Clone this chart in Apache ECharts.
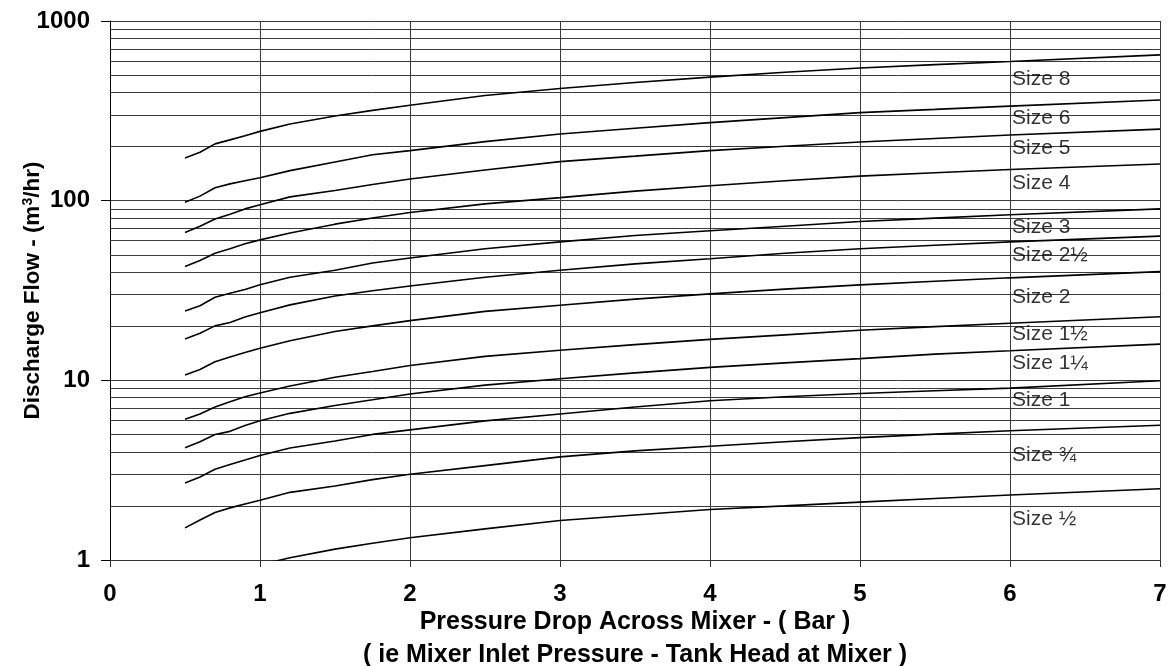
<!DOCTYPE html>
<html><head><meta charset="utf-8">
<script src="https://cdn.jsdelivr.net/npm/echarts@6/dist/echarts.min.js"></script>
<style>html,body{margin:0;padding:0;background:#fff}#c{width:1173px;height:666px}</style>
</head><body><div id="c"></div><script>
// Pressure drop (bar)
const pressure = [0.5, 0.6, 0.7, 0.8, 0.9, 1, 1.2, 1.5, 1.75, 2, 2.5, 3, 3.5, 4, 4.5, 5, 5.5, 6, 7];
// Discharge flow (m3/hr) per mixer size
const size8   = [173, 186, 207, 218, 230, 243, 267, 296, 318, 340, 385, 421, 455, 487, 518, 548, 572, 595, 648];
const size6   = [98, 106, 118, 124, 129, 134, 147, 164, 180, 190, 213, 235, 253, 272, 290, 309, 322, 336, 363];
const size5   = [66.5, 72, 79, 84, 90, 95, 105, 114, 123, 132, 148, 165, 177, 190, 201, 212, 222, 232, 250];
const size4   = [43, 46.5, 51, 54, 57.5, 60.5, 66, 74, 80, 86, 96, 104, 113, 121, 129, 137, 143, 149, 160];
const size3   = [24.3, 26, 29, 30.5, 32, 34, 37.5, 41, 45, 48, 54, 59, 64, 68, 72, 76.5, 80, 83.5, 90];
const size2h  = [17, 18.3, 20.1, 21, 22.5, 23.8, 26.3, 29.5, 31.5, 33.5, 37.5, 41, 44.5, 47.5, 51, 54, 56.5, 59, 63.5];
const size2   = [10.7, 11.5, 12.7, 13.5, 14.3, 15.1, 16.6, 18.7, 20.1, 21.5, 24.2, 26.2, 28.3, 30.3, 32.2, 34, 35.6, 37.2, 40.3];
const size1h  = [6.07, 6.5, 7.1, 7.6, 8.1, 8.5, 9.3, 10.4, 11.2, 12.1, 13.6, 14.7, 15.8, 16.9, 17.9, 19, 19.9, 20.8, 22.6];
const size1q  = [4.22, 4.55, 5.0, 5.2, 5.6, 5.95, 6.55, 7.25, 7.8, 8.4, 9.4, 10.2, 11, 11.8, 12.5, 13.2, 14, 14.6, 15.9];
const size1   = [2.68, 2.9, 3.2, 3.4, 3.6, 3.82, 4.2, 4.6, 5.0, 5.3, 5.95, 6.5, 7.1, 7.7, 8.1, 8.45, 8.75, 9.05, 9.95];
const size3q  = [1.51, 1.67, 1.84, 1.95, 2.05, 2.15, 2.38, 2.58, 2.8, 3.0, 3.35, 3.75, 4.05, 4.3, 4.55, 4.8, 5.02, 5.24, 5.62];
const sizeHalf= [0.66, 0.73, 0.79, 0.84, 0.89, 0.94, 1.03, 1.15, 1.24, 1.33, 1.49, 1.66, 1.78, 1.91, 2.0, 2.1, 2.2, 2.3, 2.49];

const sizeNames = ['Size 8', 'Size 6', 'Size 5', 'Size 4', 'Size 3', 'Size 2½', 'Size 2', 'Size 1½', 'Size 1¼', 'Size 1', 'Size ¾', 'Size ½'];
const sizeValues = [size8, size6, size5, size4, size3, size2h, size2, size1h, size1q, size1, size3q, sizeHalf];
// Where each size caption sits (x in bar, y in m3/hr)
const captionX = 6;
const captionY = [475, 288, 196, 125, 71.6, 49.8, 29.1, 18.1, 12.5, 7.77, 3.84, 1.69];
// Minor horizontal grid values
const minorGrid = [2,3,4,5,6,7,8,9,20,30,40,50,60,70,80,90,200,300,400,500,600,700,800,900];

const FONT = 'Liberation Sans, Arial, sans-serif';
const gridColor = '#3a3a3a';

const series = sizeValues.map((vals, i) => ({
  name: sizeNames[i],
  type: 'line',
  data: pressure.map((p, j) => [p, vals[j]]),
  symbol: 'none',
  smooth: false,
  clip: true,
  lineStyle: { color: '#000', width: 1.6 },
  z: 5
}));
series[0].markLine = {
  silent: true,
  symbol: ['none', 'none'],
  label: { show: false },
  lineStyle: { color: gridColor, width: 1, type: 'solid' },
  animation: false,
  data: minorGrid.map(v => ({ yAxis: v })),
  z: 1
};
series.push({
  type: 'scatter',
  symbolSize: 0,
  silent: true,
  data: captionY.map((y, i) => ({ value: [captionX, y], name: sizeNames[i] })),
  label: {
    show: true, position: 'right', distance: 2,
    formatter: p => p.name,
    fontFamily: FONT, fontSize: 21, color: '#000'
  },
  z: 6
});

const chart = echarts.init(document.getElementById('c'));
chart.setOption({
  animation: false,
  backgroundColor: '#fff',
  grid: { left: 110, right: 13, top: 21, bottom: 106, containLabel: false, outerBoundsMode: 'none' },
  xAxis: {
    type: 'value', min: 0, max: 7, interval: 1,
    name: 'Pressure Drop Across Mixer - ( Bar )\n( ie Mixer Inlet Pressure - Tank Head at Mixer )',
    nameLocation: 'middle', nameGap: 46, nameMoveOverlap: false,
    nameTextStyle: { fontFamily: FONT, fontWeight: 'bold', fontSize: 25, color: '#000', lineHeight: 33 },
    axisLine: { show: true, lineStyle: { color: '#333', width: 1 } },
    axisTick: { show: true, length: 7, lineStyle: { color: '#333' } },
    axisLabel: { fontFamily: FONT, fontWeight: 'bold', fontSize: 24, color: '#000', margin: 22 },
    splitLine: { show: true, lineStyle: { color: gridColor, width: 1 } }
  },
  yAxis: {
    type: 'log', logBase: 10, min: 1, max: 1000,
    name: '{a|Discharge Flow - (m}{s|3}{a|/hr)}',
    nameLocation: 'middle', nameGap: 66, nameRotate: 90, nameMoveOverlap: false,
    nameTextStyle: {
      rich: {
        a: { fontFamily: FONT, fontWeight: 'bold', fontSize: 22.5, color: '#000' },
        s: { fontFamily: FONT, fontWeight: 'bold', fontSize: 14, color: '#000', verticalAlign: 'top', padding: [0, 0, 8, 0] }
      }
    },
    axisLine: { show: true, lineStyle: { color: '#000', width: 1 } },
    axisTick: { show: true, length: 9, lineStyle: { color: '#000' } },
    axisLabel: { fontFamily: FONT, fontWeight: 'bold', fontSize: 24, color: '#000', margin: 20, formatter: v => String(v) },
    splitLine: { show: true, lineStyle: { color: gridColor, width: 1 } },
    minorTick: { show: false },
    minorSplitLine: { show: false }
  },
  series: series
});
</script></body></html>
